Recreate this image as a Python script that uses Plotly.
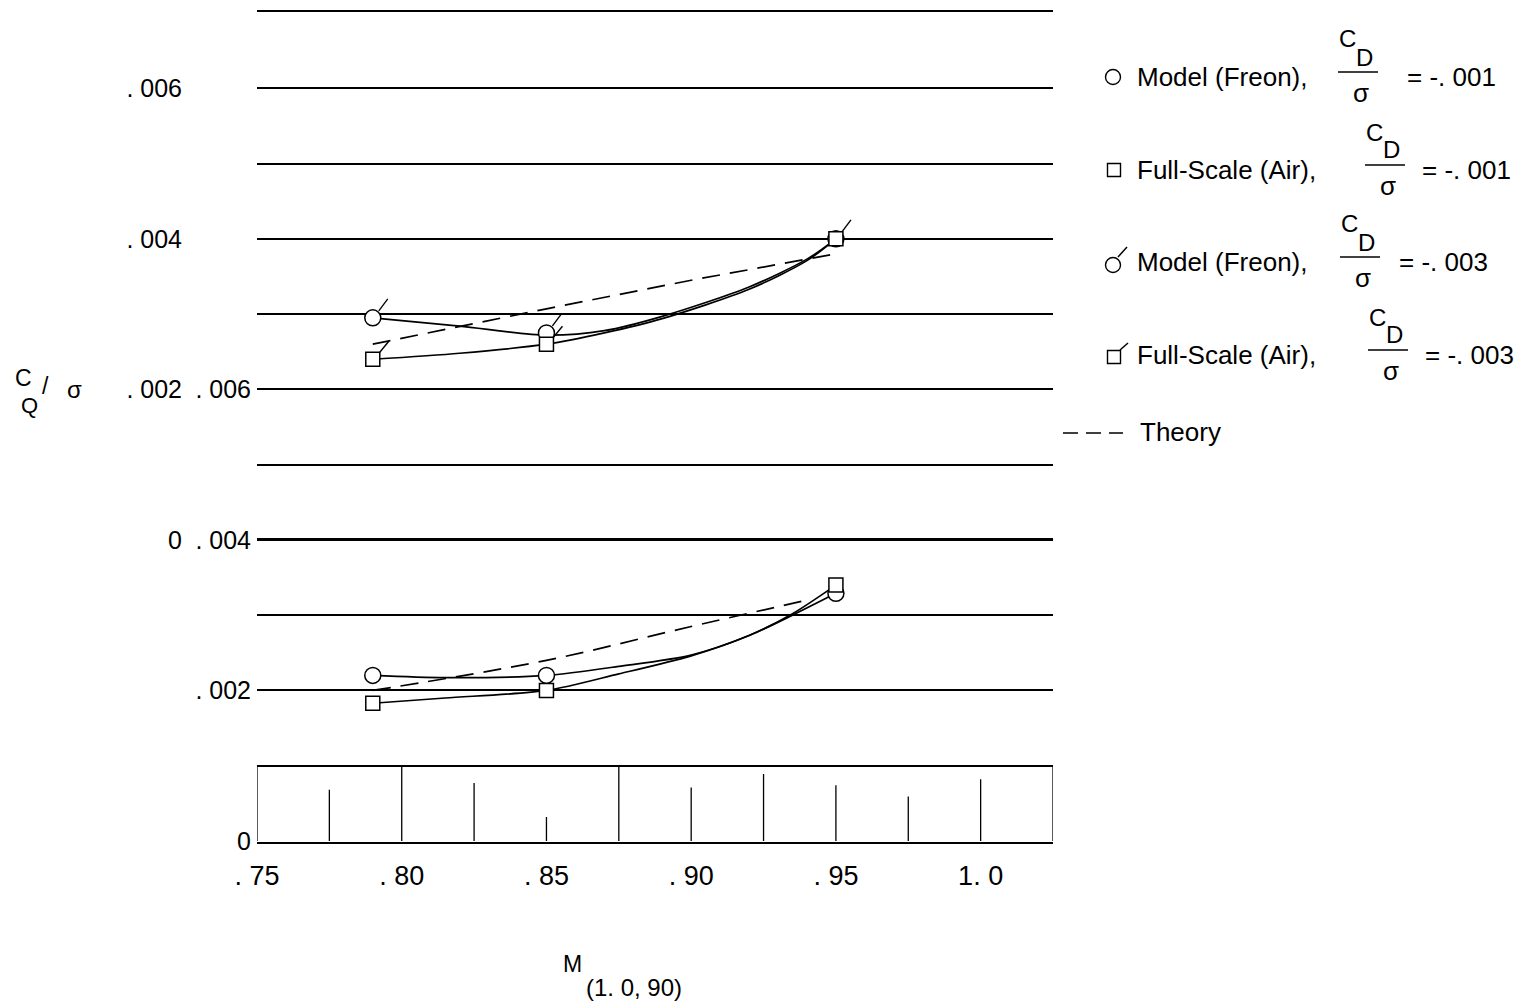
import plotly.graph_objects as go

W, H = 1525, 1003
FONT = "Liberation Sans, Arial, sans-serif"

# ---------------- data ----------------
x_tickvals = [0.75, 0.80, 0.85, 0.90, 0.95, 1.0]
x_ticktext = [". 75", ". 80", ". 85", ". 90", ". 95", "1. 0"]

# inner scale (lower set, CD/sigma = -.001)
y1_tickvals = [0.000, 0.002, 0.004, 0.006]
y1_ticktext = ["0", ". 002", ". 004", ". 006"]
y_grid_step = 0.001
# outer scale (upper set, CD/sigma = -.003), offset by .004 from the inner one
y2_tickvals = [0.000, 0.002, 0.004, 0.006]
y2_ticktext = ["0", ". 002", ". 004", ". 006"]
y2_offset = 0.004

mach = [0.79, 0.85, 0.95]
model_001 = [0.0022, 0.0022, 0.00329]
full_001 = [0.00183, 0.0020, 0.0034]
model_003 = [0.00295, 0.00275, 0.0040]
full_003 = [0.0024, 0.0026, 0.0040]

fair_mach_001 = [0.79, 0.815, 0.85, 0.875, 0.90, 0.92, 0.935, 0.95]
fair_model_001 = [0.0022, 0.00217, 0.0022, 0.00232, 0.00247, 0.00273, 0.00300, 0.00329]
fair_full_001 = [0.00183, 0.0019, 0.0020, 0.00222, 0.00246, 0.00273, 0.00302, 0.0034]

fair_mach_003 = [0.79, 0.82, 0.85, 0.87, 0.89, 0.92, 0.94, 0.95]
fair_model_003 = [0.00295, 0.00284, 0.00272, 0.00278, 0.00297, 0.00336, 0.00373, 0.0040]
fair_full_003 = [0.0024, 0.00248, 0.0026, 0.00275, 0.00294, 0.00333, 0.00371, 0.0040]

theory_mach_001 = [0.79, 0.85, 0.90, 0.94]
theory_001 = [0.0020, 0.0024, 0.00285, 0.0032]
theory_mach_003 = [0.79, 0.85, 0.90, 0.95]
theory_003 = [0.0026, 0.00307, 0.00345, 0.0038]

# broken-axis strip ticks (every .025) and their drawn heights (fraction of strip)
strip_mach = [0.75, 0.775, 0.80, 0.825, 0.85, 0.875, 0.90, 0.925, 0.95, 0.975, 1.0, 1.025]
strip_height = [1.0, 0.68, 1.0, 0.77, 0.32, 1.0, 0.71, 0.89, 0.74, 0.59, 0.82, 1.0]

# ---------------- geometry helpers ----------------
X0, X1 = 257, 1053      # plot left/right in px
Y0, Y1 = 841, 13        # px of y=0 and y=0.011
XR = [0.75, 1.025]
YTOP = 0.011
PX_X = (X1 - X0) / (XR[1] - XR[0])
PX_Y = (Y0 - Y1) / YTOP
PAD = 0.00001
YR = [-PAD, YTOP + PAD]
YPX0 = Y0 + PAD * PX_Y
YPX1 = Y1 - PAD * PX_Y


def flags(xs, ys, sx=(6, 15), sy=(7, 19)):
    fx, fy = [], []
    for x, y in zip(xs, ys):
        fx += [x + sx[0] / PX_X, x + sx[1] / PX_X, None]
        fy += [y + sy[0] / PX_Y, y + sy[1] / PX_Y, None]
    return fx, fy


def px(x):
    return x / W


def py(y):
    return 1 - y / H


fig = go.Figure()
LW = 1.7

# strip
sx, sy = [], []
for m, h in zip(strip_mach, strip_height):
    sx += [m, m, None]
    sy += [0, h * y_grid_step, None]
fig.add_trace(go.Scatter(x=sx, y=sy, mode="lines", line=dict(color="black", width=1.3),
                         hoverinfo="skip"))

# lower set (inner scale)
fig.add_trace(go.Scatter(x=theory_mach_001, y=theory_001, mode="lines",
                         line=dict(color="black", width=LW, dash="18px,10px", shape="spline")))
fig.add_trace(go.Scatter(x=fair_mach_001, y=fair_model_001, mode="lines",
                         line=dict(color="black", width=LW, shape="spline", smoothing=0.8)))
fig.add_trace(go.Scatter(x=fair_mach_001, y=fair_full_001, mode="lines",
                         line=dict(color="black", width=LW, shape="spline", smoothing=0.8)))
fig.add_trace(go.Scatter(x=mach, y=model_001, mode="markers",
                         marker=dict(symbol="circle", size=16, color="white",
                                     line=dict(color="black", width=1.5))))
fig.add_trace(go.Scatter(x=mach, y=full_001, mode="markers",
                         marker=dict(symbol="square", size=14, color="white",
                                     line=dict(color="black", width=1.5))))

# upper set (outer scale)
fig.add_trace(go.Scatter(x=theory_mach_003, y=theory_003, mode="lines", yaxis="y2",
                         line=dict(color="black", width=LW, dash="18px,10px")))
fig.add_trace(go.Scatter(x=fair_mach_003, y=fair_model_003, mode="lines", yaxis="y2",
                         line=dict(color="black", width=LW, shape="spline", smoothing=0.8)))
fig.add_trace(go.Scatter(x=fair_mach_003, y=fair_full_003, mode="lines", yaxis="y2",
                         line=dict(color="black", width=LW, shape="spline", smoothing=0.8)))
fig.add_trace(go.Scatter(x=mach, y=model_003, mode="markers", yaxis="y2",
                         marker=dict(symbol="circle", size=16, color="white",
                                     line=dict(color="black", width=1.5))))
fig.add_trace(go.Scatter(x=mach, y=full_003, mode="markers", yaxis="y2",
                         marker=dict(symbol="square", size=14, color="white",
                                     line=dict(color="black", width=1.5))))
fx, fy = flags(mach, model_003)
fig.add_trace(go.Scatter(x=fx, y=fy, mode="lines", yaxis="y2",
                         line=dict(color="black", width=1.4)))
fx, fy = flags(mach[:2], full_003[:2], sx=(7, 16), sy=(7, 18))
fig.add_trace(go.Scatter(x=fx, y=fy, mode="lines", yaxis="y2",
                         line=dict(color="black", width=1.4)))

# ---------------- annotations ----------------
ann = []


def text(t, x, y, size=26, xanchor="center", yanchor="middle"):
    ann.append(dict(text=t, x=px(x), y=py(y), xref="paper", yref="paper",
                    xanchor=xanchor, yanchor=yanchor, showarrow=False,
                    font=dict(family=FONT, size=size, color="black")))


# y title  C_Q / sigma
text("C", 13, 393, 23, xanchor="left", yanchor="bottom")
text("Q", 19, 391, 22, xanchor="left", yanchor="top")
text("/", 40, 386, 23, xanchor="left")
text("σ", 74, 389, 24)
# x title
text("M", 572, 964, 23)
text("(1. 0, 90)", 634, 987, 24)

# legend rows
shapes = []


def line(x0, y0, x1, y1, w=1.5, dash=None):
    d = dict(type="line", xref="paper", yref="paper", x0=px(x0), y0=py(y0),
             x1=px(x1), y1=py(y1), line=dict(color="black", width=w))
    if dash:
        d["line"]["dash"] = dash
    shapes.append(d)


def circle(cx, cy, r):
    shapes.append(dict(type="circle", xref="paper", yref="paper",
                       x0=px(cx - r), x1=px(cx + r), y0=py(cy + r), y1=py(cy - r),
                       line=dict(color="black", width=1.4)))


def square(cx, cy, h):
    shapes.append(dict(type="rect", xref="paper", yref="paper",
                       x0=px(cx - h), x1=px(cx + h), y0=py(cy + h), y1=py(cy - h),
                       line=dict(color="black", width=1.4)))


legend_rows = [
    # (label, y, fraction x centre, value text, "=" x, symbol, flagged)
    ("Model (Freon),", 77, 1358, "= -. 001", 1405, "c", False),
    ("Full-Scale (Air),", 170, 1385, "= -. 001", 1420, "s", False),
    ("Model (Freon),", 262, 1360, "= -. 003", 1397, "c", True),
    ("Full-Scale (Air),", 355, 1388, "= -. 003", 1423, "s", True),
]
for label, y, fxc, val, eqx, sym, flag in legend_rows:
    text(label, 1135, y, 26, xanchor="left")
    text("C", fxc - 11, y - 38, 24)
    text("D", fxc + 6, y - 20, 24)
    line(fxc - 20, y - 5, fxc + 20, y - 5, w=1.6)
    text("σ", fxc + 3, y + 16, 26)
    text(val, eqx, y, 26, xanchor="left")
    if sym == "c":
        circle(1113, y + (3 if flag else 0), 7.5)
        if flag:
            line(1118, y - 5, 1127, y - 15)
    else:
        square(1114, y + (2 if flag else 0), 6.5)
        if flag:
            line(1120, y - 5, 1128, y - 12)

line(1063, 433, 1123, 433, w=1.5, dash="15px,8px")
text("Theory", 1138, 432, 26, xanchor="left")

tickfont = dict(family=FONT, size=25, color="black")

fig.update_layout(
    width=W, height=H,
    margin=dict(l=0, r=0, t=0, b=0),
    paper_bgcolor="white", plot_bgcolor="white",
    showlegend=False,
    xaxis=dict(domain=[px(X0), px(X1)], range=XR, tickmode="array",
               tickvals=x_tickvals, ticktext=x_ticktext, showgrid=False,
               zeroline=False, showline=True, mirror=True, linecolor="black",
               linewidth=1.8, ticks="",
               tickfont=dict(family=FONT, size=27, color="black"),
               ticklabelstandoff=9, automargin=False),
    yaxis=dict(domain=[py(YPX0), py(YPX1)], range=YR, tickmode="array",
               tickvals=y1_tickvals, ticktext=y1_ticktext, showgrid=True,
               gridcolor="black", gridwidth=1.8,
               minor=dict(tick0=0, dtick=y_grid_step, showgrid=True,
                          gridcolor="black", gridwidth=1.8, ticks=""),
               zeroline=True, zerolinecolor="black", zerolinewidth=3,
               showline=False, ticks="", tickfont=tickfont,
               ticklabelstandoff=5, automargin=False),
    yaxis2=dict(overlaying="y", anchor="free", position=px(182), side="left",
                range=[YR[0] - y2_offset, YR[1] - y2_offset], tickmode="array",
                tickvals=y2_tickvals, ticktext=y2_ticktext, showgrid=False,
                zeroline=True, zerolinecolor="black", zerolinewidth=2.6,
                showline=False, ticks="", tickfont=tickfont, automargin=False),
    annotations=ann,
    shapes=shapes,
)

fig.write_html("out.html")
